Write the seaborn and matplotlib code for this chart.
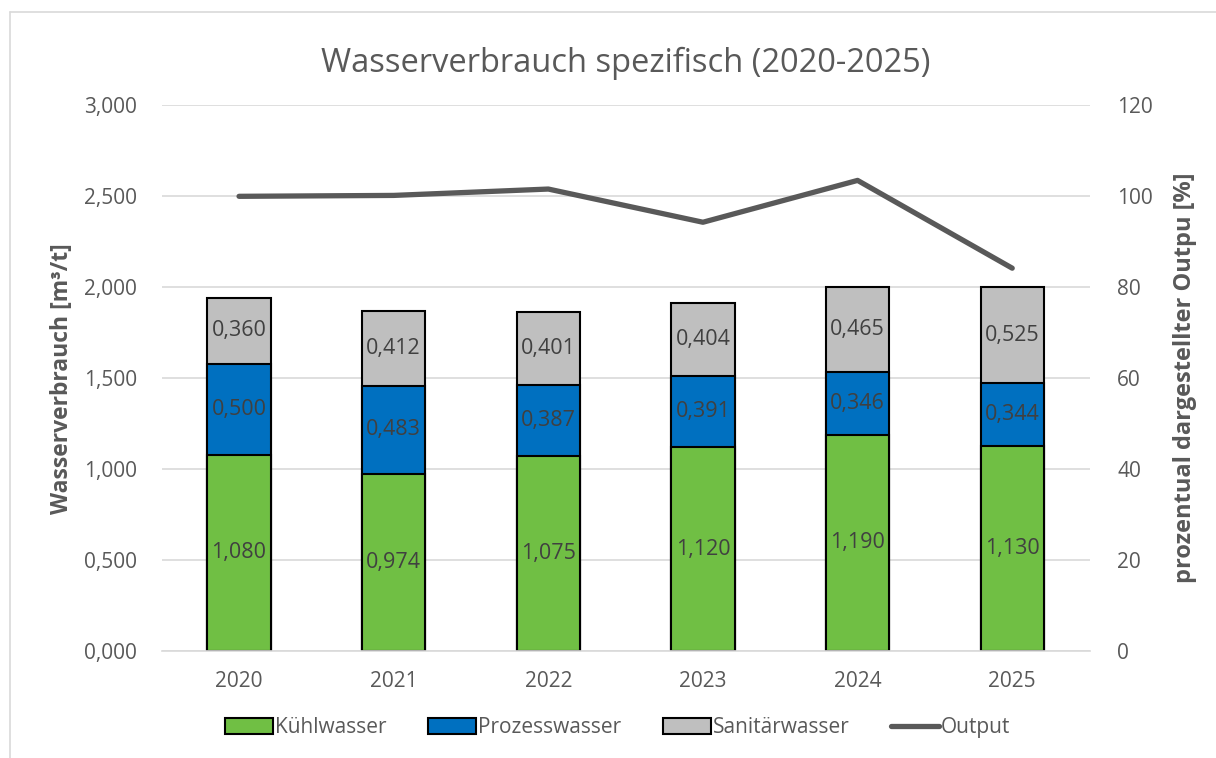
import numpy as np
import pandas as pd
import seaborn as sns
import matplotlib.pyplot as plt
from matplotlib.patches import Patch
from matplotlib.lines import Line2D

# Daten
jahre = ["2020", "2021", "2022", "2023", "2024", "2025"]
kuehlwasser = [1.080, 0.974, 1.075, 1.120, 1.190, 1.130]
prozesswasser = [0.500, 0.483, 0.387, 0.391, 0.346, 0.344]
sanitaerwasser = [0.360, 0.412, 0.401, 0.404, 0.465, 0.525]
output = [100.0, 100.2, 101.6, 94.3, 103.5, 84.2]

farbe_kuehl = "#70bf44"
farbe_prozess = "#0070c0"
farbe_sanitaer = "#bfbfbf"
farbe_output = "#595959"
text_farbe = "#595959"

sns.set_theme(style="white")
plt.rcParams["font.family"] = ["Open Sans", "DejaVu Sans"]

df = pd.DataFrame({"Jahr": jahre, "Kühl": kuehlwasser,
                   "Prozess": prozesswasser, "Sanitär": sanitaerwasser})
df["stufe2"] = df["Kühl"] + df["Prozess"]
df["stufe3"] = df["stufe2"] + df["Sanitär"]

fig = plt.figure(figsize=(12.16, 7.58), dpi=100)
ax = fig.add_axes([0.133, 0.141, 0.763, 0.72])

# gestapelte Balken (von hinten nach vorne)
for col, farbe in [("stufe3", farbe_sanitaer), ("stufe2", farbe_prozess), ("Kühl", farbe_kuehl)]:
    sns.barplot(data=df, x="Jahr", y=col, color=farbe, width=0.41,
                edgecolor="black", linewidth=1.5, saturation=1, ax=ax, zorder=2)

# Datenbeschriftungen
for i in range(len(jahre)):
    unten = 0.0
    for wert in (kuehlwasser[i], prozesswasser[i], sanitaerwasser[i]):
        ax.text(i, unten + wert / 2, f"{wert:.3f}".replace(".", ","),
                ha="center", va="center", fontsize=15.5, color="#404040", zorder=5)
        unten += wert

ax.set_ylim(0, 3.0)
ax.set_xlim(-0.5, len(jahre) - 0.5)
ax.set_yticks(np.arange(0, 3.01, 0.5))
ax.set_yticklabels([f"{v:.3f}".replace(".", ",") for v in np.arange(0, 3.01, 0.5)])
ax.yaxis.grid(True, color="#d9d9d9", linewidth=1.2, zorder=0)
ax.set_axisbelow(True)
for s in ["top", "left", "right"]:
    ax.spines[s].set_visible(False)
ax.spines["bottom"].set_color("#d9d9d9")
ax.spines["bottom"].set_linewidth(1.2)
ax.tick_params(axis="y", colors=text_farbe, labelsize=15, length=0, pad=18)
ax.tick_params(axis="x", colors=text_farbe, labelsize=15, length=0, pad=14)
ax.set_xlabel("")
ax.set_ylabel("Wasserverbrauch [m³/t]", fontsize=16.5, fontweight="bold",
              color=text_farbe, labelpad=7)

# Output-Linie auf zweiter Achse
ax2 = ax.twinx()
sns.lineplot(x=np.arange(len(jahre)), y=output, color=farbe_output,
             linewidth=3.8, ax=ax2, zorder=4)
ax2.set_ylim(0, 120)
ax2.set_yticks(range(0, 121, 20))
for s in ax2.spines.values():
    s.set_visible(False)
ax2.tick_params(axis="y", colors=text_farbe, labelsize=15, length=0, pad=20)
ax2.set_ylabel("prozentual dargestellter Outpu [%]", fontsize=17, fontweight="bold",
               color=text_farbe, labelpad=14)

ax.set_title("Wasserverbrauch spezifisch (2020-2025)", fontsize=23.5,
             color=text_farbe, pad=24)

# Legende
handles = [
    Patch(facecolor=farbe_kuehl, edgecolor="black", linewidth=1.5),
    Patch(facecolor=farbe_prozess, edgecolor="black", linewidth=1.5),
    Patch(facecolor=farbe_sanitaer, edgecolor="black", linewidth=1.5),
    Line2D([0], [0], color=farbe_output, linewidth=3.8),
]
leg = fig.legend(handles, ["Kühlwasser", "Prozesswasser", "Sanitärwasser", "Output"],
                 loc="center", bbox_to_anchor=(0.508, 0.04), ncol=4, frameon=False,
                 fontsize=15, handlelength=2.3, handleheight=0.8, handletextpad=0.1,
                 columnspacing=2.0)
for t in leg.get_texts():
    t.set_color(text_farbe)

# Rahmen (oben / links sichtbar)
fig.add_artist(Line2D([10 / 1216, 1.0], [1 - 12 / 758, 1 - 12 / 758],
                      color="#d9d9d9", linewidth=1.2, transform=fig.transFigure))
fig.add_artist(Line2D([10 / 1216, 10 / 1216], [0, 1 - 12 / 758],
                      color="#d9d9d9", linewidth=1.2, transform=fig.transFigure))

fig.savefig("out.png", dpi=100)
